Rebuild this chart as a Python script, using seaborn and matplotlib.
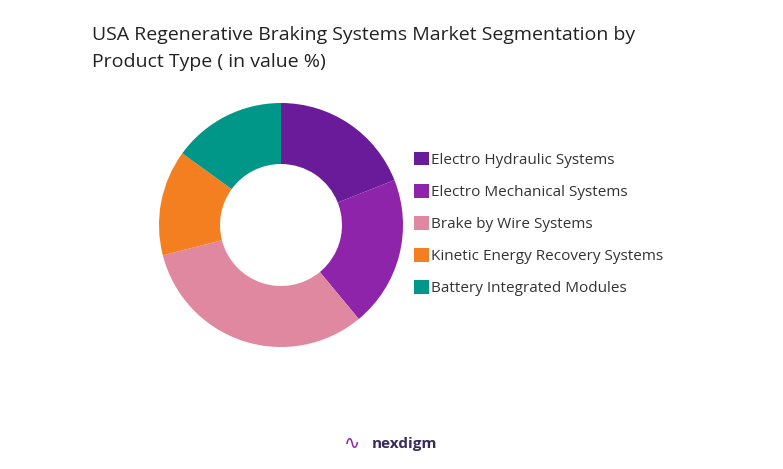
import matplotlib
matplotlib.use("Agg")
import matplotlib.pyplot as plt
import seaborn as sns
from matplotlib.patches import Patch

sns.set_theme(style="white")
plt.rcParams['font.family'] = ['Open Sans', 'DejaVu Sans']

categories = ["Electro Hydraulic Systems", "Electro Mechanical Systems", "Brake by Wire Systems",
              "Kinetic Energy Recovery Systems", "Battery Integrated Modules"]
values = [19, 20, 32, 14, 15]
colors = ["#6A1B9A", "#8E24AA", "#E088A0", "#F47F20", "#009688"]

fig = plt.figure(figsize=(7.83, 4.69), dpi=100)
fig.patch.set_facecolor("white")
R = 122
ax = fig.add_axes([(281 - R)/783, 1 - (225 + R)/469, 2*R/783, 2*R/469])
ax.pie(values, colors=colors, startangle=90, counterclock=False, radius=1.0,
       wedgeprops=dict(width=0.5, linewidth=0))
ax.set_xlim(-1, 1); ax.set_ylim(-1, 1)
ax.set_aspect("equal")

fig.text(92/783, 1 - 35/469, "USA Regenerative Braking Systems Market Segmentation by",
         fontsize=14, color="#222222", va="center")
fig.text(92/783, 1 - 62/469, "Product Type ( in value %)", fontsize=14, color="#222222", va="center")

handles = [Patch(facecolor=c, edgecolor="none") for c in colors]
fig.legend(handles, categories, loc="upper left", bbox_to_anchor=(400/783, 1 - 138/469),
           frameon=False, fontsize=11, handlelength=1.0, handleheight=1.0,
           handletextpad=0.15, labelspacing=1.05, labelcolor="#333333")

fig.text(372/783, 1 - 444/469, "nexdigm", fontsize=11, color="#3a2a5a",
         fontweight="bold", ha="left", va="center")
fig.text(352/783, 1 - 444/469, "∿", fontsize=14, color="#8E24AA", ha="center", va="center")

fig.savefig("out.png", dpi=100, facecolor="white")
